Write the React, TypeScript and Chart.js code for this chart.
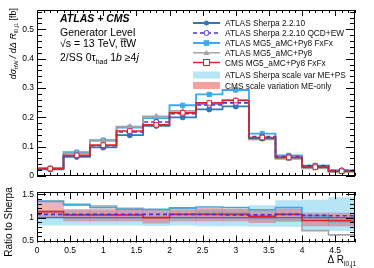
import React, { useEffect, useRef } from "react";
import { Chart, registerables } from "chart.js";
Chart.register(...registerables);

// ---------------- data ----------------
const binEdges = [0, 0.4, 0.8, 1.2, 1.6, 2.0, 2.4, 2.8, 3.2, 3.6, 4.0, 4.4, 4.8];
const binCenters = [0.2, 0.6, 1.0, 1.4, 1.8, 2.2, 2.6, 3.0, 3.4, 3.8, 4.2, 4.6];

const sherpa = [0.022, 0.065, 0.097, 0.139, 0.171, 0.200, 0.227, 0.237, 0.128, 0.063, 0.033, 0.018];
const sherpaQcdEw = [0.024, 0.069, 0.103, 0.150, 0.184, 0.212, 0.242, 0.249, 0.134, 0.066, 0.035, 0.019];
const mg5FxFx = [0.026, 0.081, 0.122, 0.165, 0.197, 0.241, 0.278, 0.293, 0.144, 0.070, 0.035, 0.018];
const mg5Py8 = [0.027, 0.077, 0.120, 0.168, 0.203, 0.222, 0.245, 0.259, 0.125, 0.058, 0.026, 0.013];
const cmsFxFx = [0.025, 0.070, 0.105, 0.153, 0.174, 0.215, 0.249, 0.257, 0.131, 0.063, 0.030, 0.016];

const ratioSherpa = [1, 1, 1, 1, 1, 1, 1, 1, 1, 1, 1, 1];
const ratioQcdEw = [1.07, 1.07, 1.07, 1.07, 1.07, 1.07, 1.07, 1.06, 1.06, 1.07, 1.05, 1.04];
const ratioFxFx = [1.35, 1.29, 1.22, 1.18, 1.18, 1.21, 1.23, 1.22, 1.17, 1.22, 1.04, 0.92];
const ratioPy8 = [1.355, 1.27, 1.25, 1.20, 1.16, 1.20, 1.12, 1.10, 0.98, 0.95, 0.72, 0.63];
const ratioCms = [1.13, 1.06, 1.06, 1.06, 1.00, 1.07, 1.07, 1.07, 1.03, 1.07, 0.94, 0.94];
const sherpaBandLo = [0.84, 0.84, 0.84, 0.84, 0.83, 0.84, 0.82, 0.82, 0.81, 0.81, 0.74, 0.72];
const sherpaBandHi = [1.15, 1.15, 1.15, 1.16, 1.15, 1.16, 1.18, 1.18, 1.26, 1.37, 1.38, 1.43];
const cmsBandLo = [1.00, 0.93, 0.93, 0.93, 0.88, 0.93, 0.93, 0.93, 0.89, 0.92, 0.82, 0.82];
const cmsBandHi = [1.335, 1.18, 1.19, 1.19, 1.13, 1.19, 1.20, 1.19, 1.16, 1.19, 1.10, 1.10];

const mainYTicks = [0, 0.1, 0.2, 0.3, 0.4, 0.5];
const ratioYTicks = [0.5, 1, 1.5];
const xTicks = [0, 0.5, 1, 1.5, 2, 2.5, 3, 3.5, 4, 4.5];

const legendLabels = [
  "ATLAS Sherpa 2.2.10",
  "ATLAS Sherpa 2.2.10 QCD+EW",
  "ATLAS MG5_aMC+Py8 FxFx",
  "ATLAS MG5_aMC+Py8",
  "CMS MG5_aMC+Py8 FxFx",
  "ATLAS Sherpa scale var ME+PS",
  "CMS scale variation ME-only",
];

// ---------------- styles ----------------
const FAMILY = '"Liberation Sans", Arial, Helvetica, sans-serif';
const C_SHERPA = "#2f7bb0";
const C_QCDEW = "#4a33d6";
const C_FXFX = "#3aa9ee";
const C_PY8 = "#a3a3a3";
const C_CMS = "#d8262c";
const C_SHERPA_BAND = "#b6e5f8";
const C_CMS_BAND = "rgba(225,70,80,0.42)";

const stepData = (v: number[]) => binEdges.map((e, i) => ({ x: e, y: v[Math.min(i, v.length - 1)] }));
const centerData = (v: number[]) => binCenters.map((c, i) => ({ x: c, y: v[i] }));
const bandData = (lo: number[], hi: number[]) => binCenters.map((c, i) => ({ x: c, y: [lo[i], hi[i]] }));

type Part = { t: string; size: number; dy?: number; style?: string };
function partsWidth(ctx: CanvasRenderingContext2D, parts: Part[]) {
  let w = 0;
  for (const p of parts) {
    ctx.font = `${p.style || ""} ${p.size}px ${FAMILY}`;
    w += ctx.measureText(p.t).width;
  }
  return w;
}
function drawParts(ctx: CanvasRenderingContext2D, parts: Part[], x: number, y: number, align: string) {
  const w = partsWidth(ctx, parts);
  let cx = align === "right" ? x - w : align === "center" ? x - w / 2 : x;
  ctx.textAlign = "left";
  ctx.textBaseline = "alphabetic";
  for (const p of parts) {
    ctx.font = `${p.style || ""} ${p.size}px ${FAMILY}`;
    ctx.fillText(p.t, cx, y + (p.dy || 0));
    cx += ctx.measureText(p.t).width;
  }
  return w;
}

function ticksPlugin(o: any) {
  return {
    id: "frameticks",
    afterDraw(chart: any) {
      const { ctx, chartArea: a } = chart;
      const xs = chart.scales.x, ys = chart.scales.y;
      ctx.save();
      ctx.strokeStyle = "#000";
      ctx.lineWidth = 1;
      ctx.strokeRect(Math.round(a.left) + 0.5, Math.round(a.top) + 0.5, Math.round(a.right - a.left) - 1, Math.round(a.bottom - a.top) - 1);
      ctx.beginPath();
      const isMajor = (v: number, step: number) => Math.abs(v / step - Math.round(v / step)) < 1e-6;
      for (let k = Math.ceil(xs.min / o.xMinor - 1e-6); k * o.xMinor <= xs.max + 1e-9; k++) {
        const v = k * o.xMinor;
        const len = isMajor(v, o.xMajor) ? o.xMajLen : o.xMinLen;
        const px = Math.round(xs.getPixelForValue(v)) + 0.5;
        ctx.moveTo(px, a.bottom); ctx.lineTo(px, a.bottom - len);
        ctx.moveTo(px, a.top); ctx.lineTo(px, a.top + len);
      }
      for (let k = Math.ceil(ys.min / o.yMinor - 1e-6); k * o.yMinor <= ys.max + 1e-9; k++) {
        const v = k * o.yMinor;
        const len = isMajor(v, o.yMajor) ? o.yMajLen : o.yMinLen;
        const py = Math.round(ys.getPixelForValue(v)) + 0.5;
        ctx.moveTo(a.left, py); ctx.lineTo(a.left + len, py);
        ctx.moveTo(a.right, py); ctx.lineTo(a.right - len, py);
      }
      ctx.stroke();
      ctx.restore();
    },
  };
}

const mainDecor = {
  id: "mainDecor",
  afterDraw(chart: any) {
    const ctx: CanvasRenderingContext2D = chart.ctx;
    ctx.save();
    ctx.fillStyle = "#000";
    // info text
    drawParts(ctx, [{ t: "ATLAS + CMS", size: 10.5, style: "italic bold" }], 60, 22, "left");
    drawParts(ctx, [{ t: "Generator Level", size: 10.5 }], 60, 36, "left");
    const w1 = drawParts(ctx, [{ t: "\u221As = 13 TeV, ", size: 10.5 }], 60, 47, "left");
    ctx.font = `10.5px ${FAMILY}`;
    const wtt = ctx.measureText("tt").width;
    drawParts(ctx, [{ t: "ttW", size: 10.5 }], 60 + w1, 47, "left");
    ctx.fillRect(60 + w1, 38.5, wtt, 0.8);
    drawParts(ctx, [
      { t: "2/SS 0\u03C4", size: 10.5 },
      { t: "had", size: 7, dy: 2.5 },
      { t: " 1", size: 10.5 },
      { t: "b", size: 10.5, style: "italic" },
      { t: " \u22654", size: 10.5 },
      { t: "j", size: 10.5, style: "italic" },
    ], 60, 61, "left");

    // legend
    const lx0 = 193, lx1 = 220, tx = 225;
    const ys = [23, 33, 43, 52.8, 62.5, 75, 85.5];
    const lines = [
      { c: C_SHERPA, dash: [], w: 2, m: "fcircle" },
      { c: C_QCDEW, dash: [4, 3], w: 1.5, m: "ocircle" },
      { c: C_FXFX, dash: [], w: 2, m: "frect" },
      { c: C_PY8, dash: [], w: 1.5, m: "tri" },
      { c: C_CMS, dash: [], w: 1.5, m: "orect" },
    ];
    lines.forEach((l, i) => {
      const y = ys[i];
      ctx.strokeStyle = l.c;
      ctx.lineWidth = l.w;
      ctx.setLineDash(l.dash);
      ctx.beginPath(); ctx.moveTo(lx0, y); ctx.lineTo(lx1, y); ctx.stroke();
      ctx.setLineDash([]);
      const mx = (lx0 + lx1) / 2;
      ctx.fillStyle = l.c;
      ctx.lineWidth = 1;
      ctx.beginPath();
      if (l.m === "fcircle") { ctx.arc(mx, y, 2.5, 0, Math.PI * 2); ctx.fill(); }
      if (l.m === "ocircle") { ctx.fillStyle = "#fff"; ctx.arc(mx, y, 2.5, 0, Math.PI * 2); ctx.fill(); ctx.stroke(); }
      if (l.m === "frect") { ctx.fillRect(mx - 2.8, y - 2.8, 5.6, 5.6); }
      if (l.m === "tri") { ctx.moveTo(mx, y - 3); ctx.lineTo(mx + 3, y + 2.2); ctx.lineTo(mx - 3, y + 2.2); ctx.closePath(); ctx.fill(); }
      if (l.m === "orect") { ctx.fillStyle = "#fff"; ctx.fillRect(mx - 3, y - 3, 6, 6); ctx.strokeRect(mx - 3, y - 3, 6, 6); }
    });
    ctx.fillStyle = C_SHERPA_BAND;
    ctx.fillRect(lx0, ys[5] - 3.5, lx1 - lx0, 7);
    ctx.fillStyle = "rgba(240,130,130,0.75)";
    ctx.fillRect(lx0, ys[6] - 3.5, lx1 - lx0, 7);
    ctx.fillStyle = "#111";
    legendLabels.forEach((t, i) => drawParts(ctx, [{ t, size: 8.3 }], tx, ys[i] + 3, "left"));

    // y title
    ctx.translate(16, 8);
    ctx.rotate(-Math.PI / 2);
    ctx.fillStyle = "#000";
    drawParts(ctx, [
      { t: "d\u03C3", size: 9, style: "italic" },
      { t: "ttW", size: 5.5, dy: 2.3 },
      { t: " / d\u0394 R", size: 9, style: "italic" },
      { t: "l0,j1", size: 5.5, dy: 2.3 },
      { t: " [fb]", size: 9 },
    ], 0, 0, "right");
    ctx.restore();
  },
};

const ratioDecor = {
  id: "ratioDecor",
  afterDraw(chart: any) {
    const ctx: CanvasRenderingContext2D = chart.ctx;
    ctx.save();
    ctx.fillStyle = "#000";
    drawParts(ctx, [{ t: "\u0394 R", size: 10 }, { t: "l0,j1", size: 6.5, dy: 2.5 }], 356, 79, "right");
    ctx.translate(12, 38);
    ctx.rotate(-Math.PI / 2);
    drawParts(ctx, [{ t: "Ratio to Sherpa", size: 10 }], 0, 0, "center");
    ctx.restore();
  },
};

const fixedTicks = (vals: number[]) => (scale: any) => {
  scale.ticks = vals.map((v) => ({ value: v }));
};

function stepLine(data: number[], color: string, width: number, order: number, dash: number[] = []) {
  return {
    type: "line",
    data: stepData(data),
    borderColor: color,
    borderWidth: width,
    borderDash: dash,
    stepped: "before",
    pointRadius: 0,
    fill: false,
    order,
  };
}
function markers(data: number[], color: string, style: string, radius: number, open: boolean, order: number) {
  return {
    type: "line",
    data: centerData(data),
    showLine: false,
    pointStyle: style,
    pointRadius: radius,
    pointBackgroundColor: open ? "#ffffff" : color,
    pointBorderColor: color,
    pointBorderWidth: 1,
    order,
  };
}
function band(lo: number[], hi: number[], color: string, order: number) {
  return {
    type: "bar",
    data: bandData(lo, hi),
    backgroundColor: color,
    borderWidth: 0,
    barPercentage: 1,
    categoryPercentage: 1,
    grouped: false,
    order,
  };
}

const tickFont = { family: FAMILY, size: 8.5 };

export default function App() {
  const mainRef = useRef<HTMLCanvasElement>(null);
  const ratioRef = useRef<HTMLCanvasElement>(null);

  useEffect(() => {
    const main = new Chart(mainRef.current as HTMLCanvasElement, {
      type: "line",
      data: {
        datasets: [
          markers(cmsFxFx, C_CMS, "rect", 3.2, true, 1),
          markers(sherpaQcdEw, C_QCDEW, "circle", 2.5, true, 2),
          markers(sherpa, C_SHERPA, "circle", 2.6, false, 3),
          markers(mg5Py8, C_PY8, "triangle", 3, false, 4),
          markers(mg5FxFx, C_FXFX, "rect", 3, false, 5),
          stepLine(cmsFxFx, C_CMS, 1.6, 6),
          stepLine(sherpaQcdEw, C_QCDEW, 1.6, 7, [4, 3]),
          stepLine(sherpa, C_SHERPA, 1.8, 8),
          stepLine(mg5Py8, C_PY8, 1.8, 9),
          stepLine(mg5FxFx, C_FXFX, 1.8, 10),
        ] as any,
      },
      options: {
        responsive: false,
        animation: false,
        layout: { padding: { left: 0, right: 19, top: 10, bottom: 0 } },
        plugins: { legend: { display: false }, tooltip: { enabled: false } },
        scales: {
          x: {
            type: "linear", min: 0, max: 4.8, offset: false,
            grid: { display: false }, border: { display: false },
            ticks: { display: false },
            afterFit: (s: any) => { s.height = 6; },
          },
          y: {
            type: "linear", min: 0, max: 0.566,
            grid: { display: false, drawTicks: false }, border: { display: false },
            afterBuildTicks: fixedTicks(mainYTicks),
            ticks: { font: tickFont, color: "#000", padding: 3, callback: (v: any) => String(v) },
            afterFit: (s: any) => { s.width = 37; },
          },
        },
      } as any,
      plugins: [ticksPlugin({ xMajor: 0.5, xMinor: 0.1, yMajor: 0.1, yMinor: 0.02, xMajLen: 6, xMinLen: 3, yMajLen: 9, yMinLen: 5 }), mainDecor],
    });

    const ratio = new Chart(ratioRef.current as HTMLCanvasElement, {
      type: "line",
      data: {
        datasets: [
          stepLine(ratioQcdEw, C_QCDEW, 1.6, 1, [4, 3]),
          stepLine(ratioCms, C_CMS, 1.6, 2),
          stepLine(ratioSherpa, "#3d6f9c", 1.3, 3),
          stepLine(ratioFxFx, C_FXFX, 1.6, 4),
          stepLine(ratioPy8, C_PY8, 1.6, 5),
          band(cmsBandLo, cmsBandHi, C_CMS_BAND, 10),
          band(sherpaBandLo, sherpaBandHi, C_SHERPA_BAND, 11),
        ] as any,
      },
      options: {
        responsive: false,
        animation: false,
        layout: { padding: { left: 0, right: 19, top: 3.5, bottom: 0 } },
        plugins: { legend: { display: false }, tooltip: { enabled: false } },
        scales: {
          x: {
            type: "linear", min: 0, max: 4.8, offset: false,
            grid: { display: false, drawTicks: false }, border: { display: false },
            afterBuildTicks: fixedTicks(xTicks),
            ticks: { font: tickFont, color: "#000", padding: 3, maxRotation: 0, autoSkip: false, callback: (v: any) => String(v) },
            afterFit: (s: any) => { s.height = 25.5; },
          },
          y: {
            type: "linear", min: 0.465, max: 1.55,
            grid: { display: false, drawTicks: false }, border: { display: false },
            afterBuildTicks: fixedTicks(ratioYTicks),
            ticks: { font: tickFont, color: "#000", padding: 3, callback: (v: any) => String(v) },
            afterFit: (s: any) => { s.width = 37; },
          },
        },
      } as any,
      plugins: [ticksPlugin({ xMajor: 0.5, xMinor: 0.1, yMajor: 0.5, yMinor: 0.1, xMajLen: 7, xMinLen: 3.5, yMajLen: 9, yMinLen: 5 }), ratioDecor],
    });

    return () => {
      main.destroy();
      ratio.destroy();
    };
  }, []);

  return (
    <div style={{ position: "absolute", left: 0, top: 0, width: 374, height: 268, background: "#fff" }}>
      <canvas ref={mainRef} width={374} height={184} style={{ position: "absolute", left: 0, top: 0, width: 374, height: 184 }} />
      <canvas ref={ratioRef} width={374} height={84} style={{ position: "absolute", left: 0, top: 184, width: 374, height: 84 }} />
    </div>
  );
}
